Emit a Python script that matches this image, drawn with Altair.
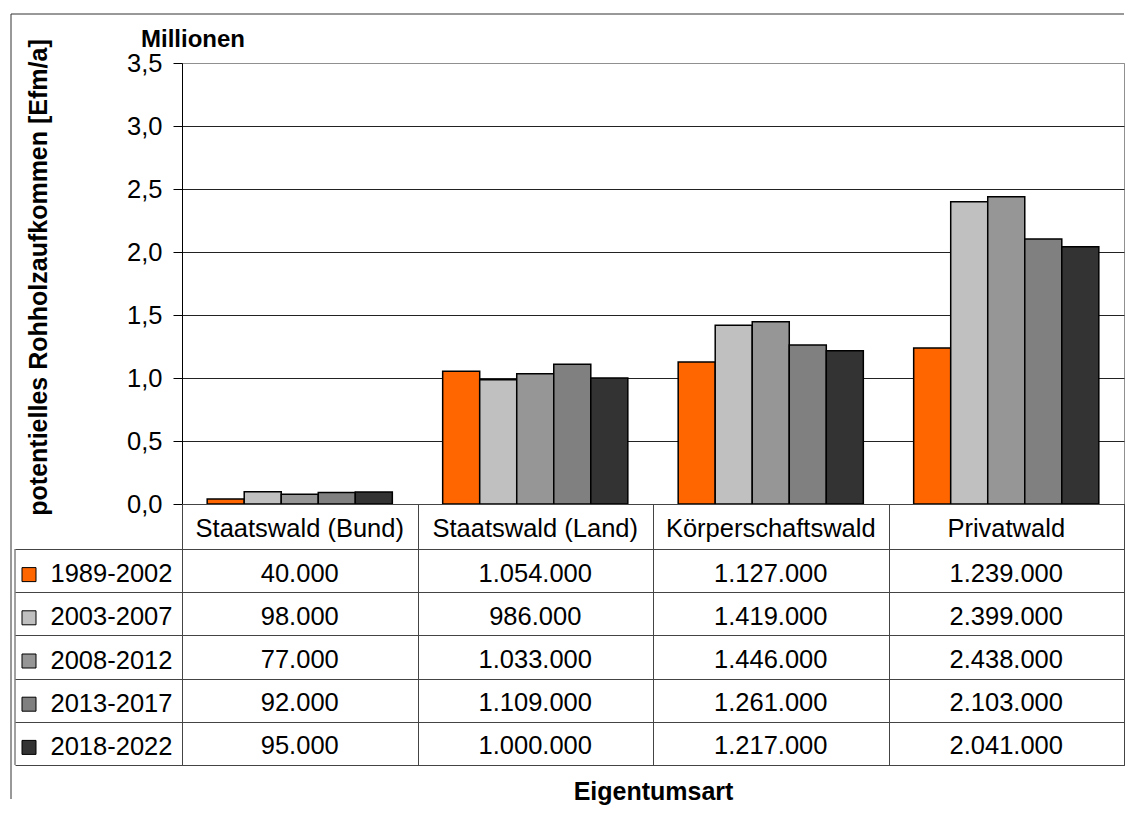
import altair as alt
import pandas as pd

categories = ["Staatswald (Bund)", "Staatswald (Land)", "Körperschaftswald", "Privatwald"]
periods = ["1989-2002", "2003-2007", "2008-2012", "2013-2017", "2018-2022"]
vals_1989_2002 = [40000, 1054000, 1127000, 1239000]
vals_2003_2007 = [98000, 986000, 1419000, 2399000]
vals_2008_2012 = [77000, 1033000, 1446000, 2438000]
vals_2013_2017 = [92000, 1109000, 1261000, 2103000]
vals_2018_2022 = [95000, 1000000, 1217000, 2041000]
colors = ["#FF6600", "#C0C0C0", "#969696", "#808080", "#333333"]
y_ticks = [0, 0.5, 1.0, 1.5, 2.0, 2.5, 3.0, 3.5]

series = [vals_1989_2002, vals_2003_2007, vals_2008_2012, vals_2013_2017, vals_2018_2022]
rows = []
for p, vals in zip(periods, series):
    for c, v in zip(categories, vals):
        rows.append({"Eigentumsart": c, "Zeitraum": p, "Wert": v,
                     "Mio": v / 1e6, "Text": f"{v:,}".replace(",", ".")})
df = pd.DataFrame(rows)
legend_df = pd.DataFrame({"Zeitraum": periods})
header_df = pd.DataFrame({"Eigentumsart": categories})
one = pd.DataFrame({"k": [0]})

FONT = "Liberation Sans"
W = 942
H = 441
HEADH = 45
ROWH = 43.2
LINE = "#444444"
FRAME_TOP = -(H + HEADH + 49)

color_scale = alt.Scale(domain=periods, range=colors)
x_scale = alt.Scale(domain=categories, paddingInner=0, paddingOuter=0)
y_band = alt.Scale(domain=periods, paddingInner=0, paddingOuter=0)

bars = alt.Chart(df).mark_bar(stroke="black", strokeWidth=1.5).encode(
    x=alt.X("Eigentumsart:N", sort=categories, scale=x_scale, axis=None),
    xOffset=alt.XOffset("Zeitraum:N", sort=periods,
                        scale=alt.Scale(paddingInner=0, paddingOuter=0.68)),
    y=alt.Y("Mio:Q", scale=alt.Scale(domain=[0, 3.5], nice=False),
            axis=alt.Axis(values=y_ticks,
                          labelExpr="replace(format(datum.value, '.1f'), '.', ',')",
                          title="potentielles Rohholzaufkommen [Efm/a]",
                          titleFontSize=25, titleFontWeight="bold", titleFont=FONT,
                          titleX=-131, titleY=214, titleAngle=270,
                          titleBaseline="bottom", titleAlign="center",
                          labelFontSize=25.5, labelFont=FONT, labelColor="black",
                          labelPadding=11, tickSize=9, tickColor="black",
                          domainColor="black", grid=True,
                          gridColor={"condition": {"test": "datum.value >= 3.5", "value": "#909090"},
                                     "value": "#222222"})),
    color=alt.Color("Zeitraum:N", scale=color_scale, legend=None),
).properties(
    width=W, height=H,
    view=alt.ViewBackground(stroke="#909090"),
    title=alt.Title("Millionen", anchor="start", frame="group", dx=-41, dy=40, offset=8,
                    baseline="alphabetic", fontSize=24, fontWeight="bold", font=FONT),
)

header = alt.Chart(header_df).mark_text(fontSize=25.5, font=FONT, dy=2, color="black").encode(
    x=alt.X("Eigentumsart:N", sort=categories, scale=x_scale,
            axis=alt.Axis(grid=True, tickBand="extent", labels=False, ticks=False,
                          domain=False, title=None, gridColor=LINE)),
    text="Eigentumsart:N",
).properties(width=W, height=HEADH, view=alt.ViewBackground(stroke=LINE))

body_text = alt.Chart(df).mark_text(fontSize=25.5, font=FONT, dy=3, color="black").encode(
    x=alt.X("Eigentumsart:N", sort=categories, scale=x_scale,
            axis=alt.Axis(grid=True, tickBand="extent", labels=False, ticks=False,
                          domain=False, title="Eigentumsart", titleFontSize=25,
                          titleFontWeight="bold", titleFont=FONT, titlePadding=14,
                          titleColor="black", gridColor=LINE)),
    y=alt.Y("Zeitraum:N", sort=periods, scale=y_band,
            axis=alt.Axis(title=None, grid=True, tickBand="extent", tickSize=167,
                          tickColor=LINE, labelAlign="left", labelPadding=-35,
                          labelFontSize=25.5, labelFont=FONT, labelColor="black",
                          labelOffset=3, gridColor=LINE, domainColor=LINE)),
    text="Text:N",
)

squares = alt.Chart(legend_df).mark_square(size=196, stroke="black", strokeWidth=1,
                                           opacity=1, yOffset=4).encode(
    x=alt.value(-153),
    y=alt.Y("Zeitraum:N", sort=periods, scale=y_band),
    color=alt.Color("Zeitraum:N", scale=color_scale, legend=None),
)

left_border = alt.Chart(one).mark_rule(color=LINE, strokeWidth=1).encode(
    x=alt.value(-167), y=alt.value(0), y2=alt.value("height"))
frame_left = alt.Chart(one).mark_rule(color="#333333", strokeWidth=1).encode(
    x=alt.value(-171), y=alt.value(FRAME_TOP), y2=alt.value(5 * ROWH + 34))
frame_top = alt.Chart(one).mark_rule(color="#333333", strokeWidth=1).encode(
    x=alt.value(-171), x2=alt.value("width"), y=alt.value(FRAME_TOP))

body = alt.layer(body_text, squares, left_border, frame_left, frame_top).properties(
    width=W, height=5 * ROWH, view=alt.ViewBackground(stroke=LINE))

chart = alt.vconcat(bars, header, body, spacing=0, bounds="flush").properties(
    padding={"left": 2, "top": 5, "right": 0, "bottom": 0}
).configure(font=FONT)

chart.save("out.html", embed_options={"renderer": "svg", "actions": False})
